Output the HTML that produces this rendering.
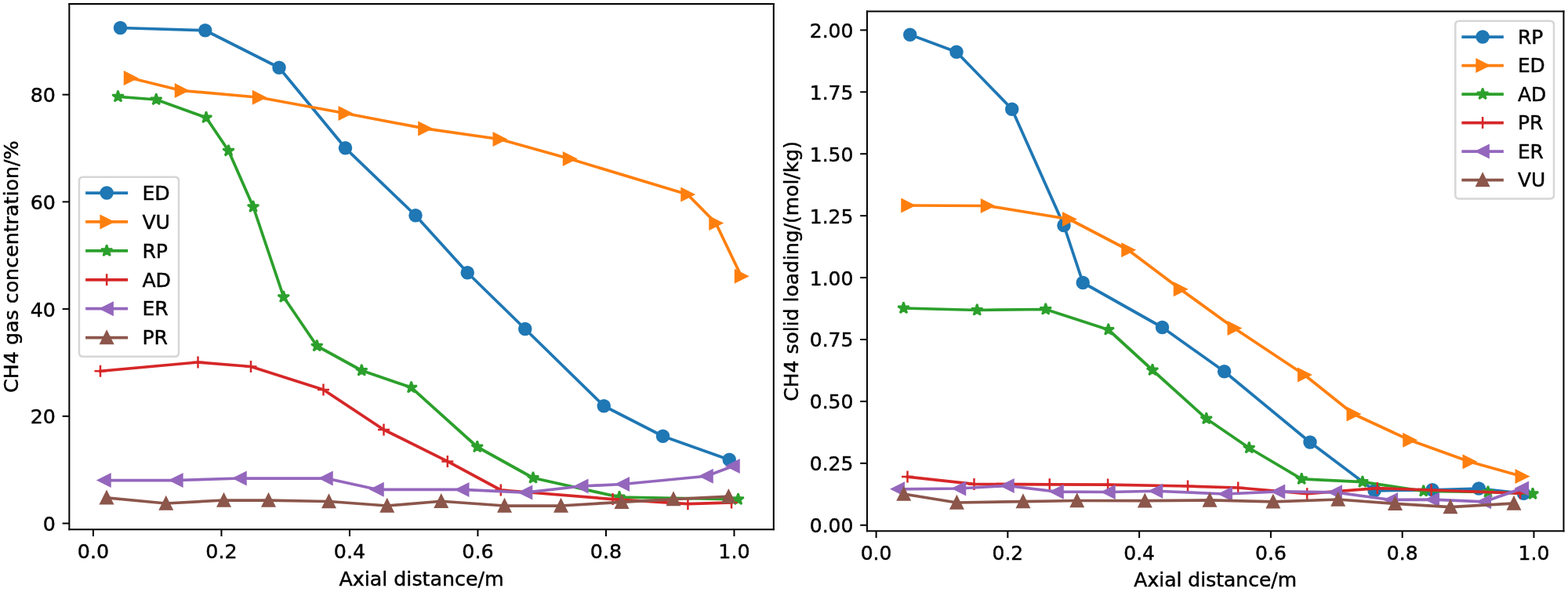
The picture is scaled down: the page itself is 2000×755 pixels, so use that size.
<!DOCTYPE html>
<html><head><meta charset="utf-8"><title>CH4 gas concentration and solid loading vs axial distance</title>
<style>html,body{margin:0;padding:0;background:#fff;overflow:hidden}svg{display:block}#fig text{stroke:#000;stroke-width:0.18px}</style>
</head><body>
<svg id="fig" width="2000" height="755" viewBox="0 0 800 302"> <defs> <style type="text/css">#fig *{stroke-linejoin: round; stroke-linecap: butt}</style> </defs> <g id="figure_1"> <g id="patch_1"> <path d="M 0 302 L 800 302 L 800 0 L 0 0 z " style="fill: #ffffff"/> </g> <g id="axes_1"> <g id="patch_2"> <path d="M 35.34 270.1 L 394.72 270.1 L 394.72 2.04 L 35.34 2.04 z " style="fill: #ffffff"/> </g> <g id="matplotlib.axis_1"> <g id="xtick_1"> <g id="line2d_1"> <g> <path d="M 0 0 L 0 3.5 " transform="translate(47.576 270.1)" style="stroke: #000000; stroke-width: 0.8"/> </g> </g> <g id="text_1"> <text style="font-size: 10.13px; font-family: 'DejaVu Sans', sans-serif; text-anchor: middle" x="47.576" y="284.797217" transform="rotate(-0 47.576 284.797217)">0.0</text> </g> </g> <g id="xtick_2"> <g id="line2d_2"> <g> <path d="M 0 0 L 0 3.5 " transform="translate(112.976 270.1)" style="stroke: #000000; stroke-width: 0.8"/> </g> </g> <g id="text_2"> <text style="font-size: 10.13px; font-family: 'DejaVu Sans', sans-serif; text-anchor: middle" x="112.976" y="284.797217" transform="rotate(-0 112.976 284.797217)">0.2</text> </g> </g> <g id="xtick_3"> <g id="line2d_3"> <g> <path d="M 0 0 L 0 3.5 " transform="translate(178.376 270.1)" style="stroke: #000000; stroke-width: 0.8"/> </g> </g> <g id="text_3"> <text style="font-size: 10.13px; font-family: 'DejaVu Sans', sans-serif; text-anchor: middle" x="178.376" y="284.797217" transform="rotate(-0 178.376 284.797217)">0.4</text> </g> </g> <g id="xtick_4"> <g id="line2d_4"> <g> <path d="M 0 0 L 0 3.5 " transform="translate(243.776 270.1)" style="stroke: #000000; stroke-width: 0.8"/> </g> </g> <g id="text_4"> <text style="font-size: 10.13px; font-family: 'DejaVu Sans', sans-serif; text-anchor: middle" x="243.776" y="284.797217" transform="rotate(-0 243.776 284.797217)">0.6</text> </g> </g> <g id="xtick_5"> <g id="line2d_5"> <g> <path d="M 0 0 L 0 3.5 " transform="translate(309.176 270.1)" style="stroke: #000000; stroke-width: 0.8"/> </g> </g> <g id="text_5"> <text style="font-size: 10.13px; font-family: 'DejaVu Sans', sans-serif; text-anchor: middle" x="309.176" y="284.797217" transform="rotate(-0 309.176 284.797217)">0.8</text> </g> </g> <g id="xtick_6"> <g id="line2d_6"> <g> <path d="M 0 0 L 0 3.5 " transform="translate(374.576 270.1)" style="stroke: #000000; stroke-width: 0.8"/> </g> </g> <g id="text_6"> <text style="font-size: 10.13px; font-family: 'DejaVu Sans', sans-serif; text-anchor: middle" x="374.576" y="284.797217" transform="rotate(-0 374.576 284.797217)">1.0</text> </g> </g> <g id="text_7"> <text style="font-size: 10.13px; font-family: 'DejaVu Sans', sans-serif; text-anchor: middle" x="215.03" y="298.601158" transform="rotate(-0 215.03 298.601158)">Axial distance/m</text> </g> </g> <g id="matplotlib.axis_2"> <g id="ytick_1"> <g id="line2d_7"> <g> <path d="M 0 0 L -3.5 0 " transform="translate(35.34 267)" style="stroke: #000000; stroke-width: 0.8"/> </g> </g> <g id="text_8"> <text style="font-size: 10.13px; font-family: 'DejaVu Sans', sans-serif; text-anchor: end" x="28.34" y="270.848609" transform="rotate(-0 28.34 270.848609)">0</text> </g> </g> <g id="ytick_2"> <g id="line2d_8"> <g> <path d="M 0 0 L -3.5 0 " transform="translate(35.34 212.32)" style="stroke: #000000; stroke-width: 0.8"/> </g> </g> <g id="text_9"> <text style="font-size: 10.13px; font-family: 'DejaVu Sans', sans-serif; text-anchor: end" x="28.34" y="216.168609" transform="rotate(-0 28.34 216.168609)">20</text> </g> </g> <g id="ytick_3"> <g id="line2d_9"> <g> <path d="M 0 0 L -3.5 0 " transform="translate(35.34 157.64)" style="stroke: #000000; stroke-width: 0.8"/> </g> </g> <g id="text_10"> <text style="font-size: 10.13px; font-family: 'DejaVu Sans', sans-serif; text-anchor: end" x="28.34" y="161.488609" transform="rotate(-0 28.34 161.488609)">40</text> </g> </g> <g id="ytick_4"> <g id="line2d_10"> <g> <path d="M 0 0 L -3.5 0 " transform="translate(35.34 102.96)" style="stroke: #000000; stroke-width: 0.8"/> </g> </g> <g id="text_11"> <text style="font-size: 10.13px; font-family: 'DejaVu Sans', sans-serif; text-anchor: end" x="28.34" y="106.808609" transform="rotate(-0 28.34 106.808609)">60</text> </g> </g> <g id="ytick_5"> <g id="line2d_11"> <g> <path d="M 0 0 L -3.5 0 " transform="translate(35.34 48.28)" style="stroke: #000000; stroke-width: 0.8"/> </g> </g> <g id="text_12"> <text style="font-size: 10.13px; font-family: 'DejaVu Sans', sans-serif; text-anchor: end" x="28.34" y="52.128609" transform="rotate(-0 28.34 52.128609)">80</text> </g> </g> <g id="text_13"> <text style="font-size: 10.13px; font-family: 'DejaVu Sans', sans-serif; text-anchor: middle" x="9.342852" y="136.07" transform="rotate(-90 9.342852 136.07)">CH4 gas concentration/%</text> </g> </g> <g id="line2d_12"> <path d="M 61.4 14.2 L 104.7 15.5 L 142.4 34.5 L 176.2 75.52 L 212 109.9 L 238.5 139.1 L 267.9 167.8 L 308.1 207.1 L 338.2 222.5 L 372.08 234.52 " clip-path="url(#pc1bcc876b8)" style="fill: none; stroke: #1f77b4; stroke-width: 1.5; stroke-linecap: square"/> <g clip-path="url(#pc1bcc876b8)"> <path d="M 0 3 C 0.795609 3 1.55874 2.683901 2.12132 2.12132 C 2.683901 1.55874 3 0.795609 3 0 C 3 -0.795609 2.683901 -1.55874 2.12132 -2.12132 C 1.55874 -2.683901 0.795609 -3 0 -3 C -0.795609 -3 -1.55874 -2.683901 -2.12132 -2.12132 C -2.683901 -1.55874 -3 -0.795609 -3 0 C -3 0.795609 -2.683901 1.55874 -2.12132 2.12132 C -1.55874 2.683901 -0.795609 3 0 3 z " transform="translate(61.4 14.2)" style="fill: #1f77b4; stroke: #1f77b4"/> <path d="M 0 3 C 0.795609 3 1.55874 2.683901 2.12132 2.12132 C 2.683901 1.55874 3 0.795609 3 0 C 3 -0.795609 2.683901 -1.55874 2.12132 -2.12132 C 1.55874 -2.683901 0.795609 -3 0 -3 C -0.795609 -3 -1.55874 -2.683901 -2.12132 -2.12132 C -2.683901 -1.55874 -3 -0.795609 -3 0 C -3 0.795609 -2.683901 1.55874 -2.12132 2.12132 C -1.55874 2.683901 -0.795609 3 0 3 z " transform="translate(104.7 15.5)" style="fill: #1f77b4; stroke: #1f77b4"/> <path d="M 0 3 C 0.795609 3 1.55874 2.683901 2.12132 2.12132 C 2.683901 1.55874 3 0.795609 3 0 C 3 -0.795609 2.683901 -1.55874 2.12132 -2.12132 C 1.55874 -2.683901 0.795609 -3 0 -3 C -0.795609 -3 -1.55874 -2.683901 -2.12132 -2.12132 C -2.683901 -1.55874 -3 -0.795609 -3 0 C -3 0.795609 -2.683901 1.55874 -2.12132 2.12132 C -1.55874 2.683901 -0.795609 3 0 3 z " transform="translate(142.4 34.5)" style="fill: #1f77b4; stroke: #1f77b4"/> <path d="M 0 3 C 0.795609 3 1.55874 2.683901 2.12132 2.12132 C 2.683901 1.55874 3 0.795609 3 0 C 3 -0.795609 2.683901 -1.55874 2.12132 -2.12132 C 1.55874 -2.683901 0.795609 -3 0 -3 C -0.795609 -3 -1.55874 -2.683901 -2.12132 -2.12132 C -2.683901 -1.55874 -3 -0.795609 -3 0 C -3 0.795609 -2.683901 1.55874 -2.12132 2.12132 C -1.55874 2.683901 -0.795609 3 0 3 z " transform="translate(176.2 75.52)" style="fill: #1f77b4; stroke: #1f77b4"/> <path d="M 0 3 C 0.795609 3 1.55874 2.683901 2.12132 2.12132 C 2.683901 1.55874 3 0.795609 3 0 C 3 -0.795609 2.683901 -1.55874 2.12132 -2.12132 C 1.55874 -2.683901 0.795609 -3 0 -3 C -0.795609 -3 -1.55874 -2.683901 -2.12132 -2.12132 C -2.683901 -1.55874 -3 -0.795609 -3 0 C -3 0.795609 -2.683901 1.55874 -2.12132 2.12132 C -1.55874 2.683901 -0.795609 3 0 3 z " transform="translate(212 109.9)" style="fill: #1f77b4; stroke: #1f77b4"/> <path d="M 0 3 C 0.795609 3 1.55874 2.683901 2.12132 2.12132 C 2.683901 1.55874 3 0.795609 3 0 C 3 -0.795609 2.683901 -1.55874 2.12132 -2.12132 C 1.55874 -2.683901 0.795609 -3 0 -3 C -0.795609 -3 -1.55874 -2.683901 -2.12132 -2.12132 C -2.683901 -1.55874 -3 -0.795609 -3 0 C -3 0.795609 -2.683901 1.55874 -2.12132 2.12132 C -1.55874 2.683901 -0.795609 3 0 3 z " transform="translate(238.5 139.1)" style="fill: #1f77b4; stroke: #1f77b4"/> <path d="M 0 3 C 0.795609 3 1.55874 2.683901 2.12132 2.12132 C 2.683901 1.55874 3 0.795609 3 0 C 3 -0.795609 2.683901 -1.55874 2.12132 -2.12132 C 1.55874 -2.683901 0.795609 -3 0 -3 C -0.795609 -3 -1.55874 -2.683901 -2.12132 -2.12132 C -2.683901 -1.55874 -3 -0.795609 -3 0 C -3 0.795609 -2.683901 1.55874 -2.12132 2.12132 C -1.55874 2.683901 -0.795609 3 0 3 z " transform="translate(267.9 167.8)" style="fill: #1f77b4; stroke: #1f77b4"/> <path d="M 0 3 C 0.795609 3 1.55874 2.683901 2.12132 2.12132 C 2.683901 1.55874 3 0.795609 3 0 C 3 -0.795609 2.683901 -1.55874 2.12132 -2.12132 C 1.55874 -2.683901 0.795609 -3 0 -3 C -0.795609 -3 -1.55874 -2.683901 -2.12132 -2.12132 C -2.683901 -1.55874 -3 -0.795609 -3 0 C -3 0.795609 -2.683901 1.55874 -2.12132 2.12132 C -1.55874 2.683901 -0.795609 3 0 3 z " transform="translate(308.1 207.1)" style="fill: #1f77b4; stroke: #1f77b4"/> <path d="M 0 3 C 0.795609 3 1.55874 2.683901 2.12132 2.12132 C 2.683901 1.55874 3 0.795609 3 0 C 3 -0.795609 2.683901 -1.55874 2.12132 -2.12132 C 1.55874 -2.683901 0.795609 -3 0 -3 C -0.795609 -3 -1.55874 -2.683901 -2.12132 -2.12132 C -2.683901 -1.55874 -3 -0.795609 -3 0 C -3 0.795609 -2.683901 1.55874 -2.12132 2.12132 C -1.55874 2.683901 -0.795609 3 0 3 z " transform="translate(338.2 222.5)" style="fill: #1f77b4; stroke: #1f77b4"/> <path d="M 0 3 C 0.795609 3 1.55874 2.683901 2.12132 2.12132 C 2.683901 1.55874 3 0.795609 3 0 C 3 -0.795609 2.683901 -1.55874 2.12132 -2.12132 C 1.55874 -2.683901 0.795609 -3 0 -3 C -0.795609 -3 -1.55874 -2.683901 -2.12132 -2.12132 C -2.683901 -1.55874 -3 -0.795609 -3 0 C -3 0.795609 -2.683901 1.55874 -2.12132 2.12132 C -1.55874 2.683901 -0.795609 3 0 3 z " transform="translate(372.08 234.52)" style="fill: #1f77b4; stroke: #1f77b4"/> </g> </g> <g id="line2d_13"> <path d="M 66.6 39.8 L 92.6 46.2 L 132.2 49.7 L 176.1 57.8 L 216.76 65.56 L 254.9 71 L 290.6 81 L 350.8 99.2 L 365.2 113.8 L 378.2 140.9 " clip-path="url(#pc1bcc876b8)" style="fill: none; stroke: #ff7f0e; stroke-width: 1.5; stroke-linecap: square"/> <g clip-path="url(#pc1bcc876b8)"> <path d="M 3 0 L -3 -3 L -3 3 z " transform="translate(66.6 39.8)" style="fill: #ff7f0e; stroke: #ff7f0e; stroke-linejoin: miter"/> <path d="M 3 0 L -3 -3 L -3 3 z " transform="translate(92.6 46.2)" style="fill: #ff7f0e; stroke: #ff7f0e; stroke-linejoin: miter"/> <path d="M 3 0 L -3 -3 L -3 3 z " transform="translate(132.2 49.7)" style="fill: #ff7f0e; stroke: #ff7f0e; stroke-linejoin: miter"/> <path d="M 3 0 L -3 -3 L -3 3 z " transform="translate(176.1 57.8)" style="fill: #ff7f0e; stroke: #ff7f0e; stroke-linejoin: miter"/> <path d="M 3 0 L -3 -3 L -3 3 z " transform="translate(216.76 65.56)" style="fill: #ff7f0e; stroke: #ff7f0e; stroke-linejoin: miter"/> <path d="M 3 0 L -3 -3 L -3 3 z " transform="translate(254.9 71)" style="fill: #ff7f0e; stroke: #ff7f0e; stroke-linejoin: miter"/> <path d="M 3 0 L -3 -3 L -3 3 z " transform="translate(290.6 81)" style="fill: #ff7f0e; stroke: #ff7f0e; stroke-linejoin: miter"/> <path d="M 3 0 L -3 -3 L -3 3 z " transform="translate(350.8 99.2)" style="fill: #ff7f0e; stroke: #ff7f0e; stroke-linejoin: miter"/> <path d="M 3 0 L -3 -3 L -3 3 z " transform="translate(365.2 113.8)" style="fill: #ff7f0e; stroke: #ff7f0e; stroke-linejoin: miter"/> <path d="M 3 0 L -3 -3 L -3 3 z " transform="translate(378.2 140.9)" style="fill: #ff7f0e; stroke: #ff7f0e; stroke-linejoin: miter"/> </g> </g> <g id="line2d_14"> <path d="M 60.2 49.3 L 79.7 50.8 L 105.2 60 L 116.6 76.92 L 129.2 105.5 L 144.7 151.5 L 161.7 176.5 L 184.5 189 L 209.84 197.7 L 243.5 228 L 272 243.8 L 316 253.6 L 376.6 254.72 " clip-path="url(#pc1bcc876b8)" style="fill: none; stroke: #2ca02c; stroke-width: 1.5; stroke-linecap: square"/> <g clip-path="url(#pc1bcc876b8)"> <path d="M 0 -3 L -0.673542 -0.927051 L -2.85317 -0.927051 L -1.089814 0.354102 L -1.763356 2.427051 L -0 1.145898 L 1.763356 2.427051 L 1.089814 0.354102 L 2.85317 -0.927051 L 0.673542 -0.927051 z " transform="translate(60.2 49.3)" style="fill: #2ca02c; stroke: #2ca02c; stroke-linejoin: bevel"/> <path d="M 0 -3 L -0.673542 -0.927051 L -2.85317 -0.927051 L -1.089814 0.354102 L -1.763356 2.427051 L -0 1.145898 L 1.763356 2.427051 L 1.089814 0.354102 L 2.85317 -0.927051 L 0.673542 -0.927051 z " transform="translate(79.7 50.8)" style="fill: #2ca02c; stroke: #2ca02c; stroke-linejoin: bevel"/> <path d="M 0 -3 L -0.673542 -0.927051 L -2.85317 -0.927051 L -1.089814 0.354102 L -1.763356 2.427051 L -0 1.145898 L 1.763356 2.427051 L 1.089814 0.354102 L 2.85317 -0.927051 L 0.673542 -0.927051 z " transform="translate(105.2 60)" style="fill: #2ca02c; stroke: #2ca02c; stroke-linejoin: bevel"/> <path d="M 0 -3 L -0.673542 -0.927051 L -2.85317 -0.927051 L -1.089814 0.354102 L -1.763356 2.427051 L -0 1.145898 L 1.763356 2.427051 L 1.089814 0.354102 L 2.85317 -0.927051 L 0.673542 -0.927051 z " transform="translate(116.6 76.92)" style="fill: #2ca02c; stroke: #2ca02c; stroke-linejoin: bevel"/> <path d="M 0 -3 L -0.673542 -0.927051 L -2.85317 -0.927051 L -1.089814 0.354102 L -1.763356 2.427051 L -0 1.145898 L 1.763356 2.427051 L 1.089814 0.354102 L 2.85317 -0.927051 L 0.673542 -0.927051 z " transform="translate(129.2 105.5)" style="fill: #2ca02c; stroke: #2ca02c; stroke-linejoin: bevel"/> <path d="M 0 -3 L -0.673542 -0.927051 L -2.85317 -0.927051 L -1.089814 0.354102 L -1.763356 2.427051 L -0 1.145898 L 1.763356 2.427051 L 1.089814 0.354102 L 2.85317 -0.927051 L 0.673542 -0.927051 z " transform="translate(144.7 151.5)" style="fill: #2ca02c; stroke: #2ca02c; stroke-linejoin: bevel"/> <path d="M 0 -3 L -0.673542 -0.927051 L -2.85317 -0.927051 L -1.089814 0.354102 L -1.763356 2.427051 L -0 1.145898 L 1.763356 2.427051 L 1.089814 0.354102 L 2.85317 -0.927051 L 0.673542 -0.927051 z " transform="translate(161.7 176.5)" style="fill: #2ca02c; stroke: #2ca02c; stroke-linejoin: bevel"/> <path d="M 0 -3 L -0.673542 -0.927051 L -2.85317 -0.927051 L -1.089814 0.354102 L -1.763356 2.427051 L -0 1.145898 L 1.763356 2.427051 L 1.089814 0.354102 L 2.85317 -0.927051 L 0.673542 -0.927051 z " transform="translate(184.5 189)" style="fill: #2ca02c; stroke: #2ca02c; stroke-linejoin: bevel"/> <path d="M 0 -3 L -0.673542 -0.927051 L -2.85317 -0.927051 L -1.089814 0.354102 L -1.763356 2.427051 L -0 1.145898 L 1.763356 2.427051 L 1.089814 0.354102 L 2.85317 -0.927051 L 0.673542 -0.927051 z " transform="translate(209.84 197.7)" style="fill: #2ca02c; stroke: #2ca02c; stroke-linejoin: bevel"/> <path d="M 0 -3 L -0.673542 -0.927051 L -2.85317 -0.927051 L -1.089814 0.354102 L -1.763356 2.427051 L -0 1.145898 L 1.763356 2.427051 L 1.089814 0.354102 L 2.85317 -0.927051 L 0.673542 -0.927051 z " transform="translate(243.5 228)" style="fill: #2ca02c; stroke: #2ca02c; stroke-linejoin: bevel"/> <path d="M 0 -3 L -0.673542 -0.927051 L -2.85317 -0.927051 L -1.089814 0.354102 L -1.763356 2.427051 L -0 1.145898 L 1.763356 2.427051 L 1.089814 0.354102 L 2.85317 -0.927051 L 0.673542 -0.927051 z " transform="translate(272 243.8)" style="fill: #2ca02c; stroke: #2ca02c; stroke-linejoin: bevel"/> <path d="M 0 -3 L -0.673542 -0.927051 L -2.85317 -0.927051 L -1.089814 0.354102 L -1.763356 2.427051 L -0 1.145898 L 1.763356 2.427051 L 1.089814 0.354102 L 2.85317 -0.927051 L 0.673542 -0.927051 z " transform="translate(316 253.6)" style="fill: #2ca02c; stroke: #2ca02c; stroke-linejoin: bevel"/> <path d="M 0 -3 L -0.673542 -0.927051 L -2.85317 -0.927051 L -1.089814 0.354102 L -1.763356 2.427051 L -0 1.145898 L 1.763356 2.427051 L 1.089814 0.354102 L 2.85317 -0.927051 L 0.673542 -0.927051 z " transform="translate(376.6 254.72)" style="fill: #2ca02c; stroke: #2ca02c; stroke-linejoin: bevel"/> </g> </g> <g id="line2d_15"> <path d="M 51.2 189.3 L 101 184.8 L 128 187 L 165 198.8 L 195.8 219.2 L 228.32 235.36 L 255.52 250 L 312.64 254.64 L 350.96 257.08 L 373.2 256.4 " clip-path="url(#pc1bcc876b8)" style="fill: none; stroke: #d62728; stroke-width: 1.5; stroke-linecap: square"/> <g clip-path="url(#pc1bcc876b8)"> <path d="M -3 0 L 3 0 M 0 3 L 0 -3 " transform="translate(51.2 189.3)" style="fill: #d62728; stroke: #d62728"/> <path d="M -3 0 L 3 0 M 0 3 L 0 -3 " transform="translate(101 184.8)" style="fill: #d62728; stroke: #d62728"/> <path d="M -3 0 L 3 0 M 0 3 L 0 -3 " transform="translate(128 187)" style="fill: #d62728; stroke: #d62728"/> <path d="M -3 0 L 3 0 M 0 3 L 0 -3 " transform="translate(165 198.8)" style="fill: #d62728; stroke: #d62728"/> <path d="M -3 0 L 3 0 M 0 3 L 0 -3 " transform="translate(195.8 219.2)" style="fill: #d62728; stroke: #d62728"/> <path d="M -3 0 L 3 0 M 0 3 L 0 -3 " transform="translate(228.32 235.36)" style="fill: #d62728; stroke: #d62728"/> <path d="M -3 0 L 3 0 M 0 3 L 0 -3 " transform="translate(255.52 250)" style="fill: #d62728; stroke: #d62728"/> <path d="M -3 0 L 3 0 M 0 3 L 0 -3 " transform="translate(312.64 254.64)" style="fill: #d62728; stroke: #d62728"/> <path d="M -3 0 L 3 0 M 0 3 L 0 -3 " transform="translate(350.96 257.08)" style="fill: #d62728; stroke: #d62728"/> <path d="M -3 0 L 3 0 M 0 3 L 0 -3 " transform="translate(373.2 256.4)" style="fill: #d62728; stroke: #d62728"/> </g> </g> <g id="line2d_16"> <path d="M 53.2 245 L 89.96 245 L 122.4 244 L 166.4 244 L 192.4 249.7 L 235.9 249.76 L 268.2 251.24 L 296.7 248 L 317.7 247 L 360.4 242.9 L 374 237.8 " clip-path="url(#pc1bcc876b8)" style="fill: none; stroke: #9467bd; stroke-width: 1.5; stroke-linecap: square"/> <g clip-path="url(#pc1bcc876b8)"> <path d="M -3 -0 L 3 3 L 3 -3 z " transform="translate(53.2 245)" style="fill: #9467bd; stroke: #9467bd; stroke-linejoin: miter"/> <path d="M -3 -0 L 3 3 L 3 -3 z " transform="translate(89.96 245)" style="fill: #9467bd; stroke: #9467bd; stroke-linejoin: miter"/> <path d="M -3 -0 L 3 3 L 3 -3 z " transform="translate(122.4 244)" style="fill: #9467bd; stroke: #9467bd; stroke-linejoin: miter"/> <path d="M -3 -0 L 3 3 L 3 -3 z " transform="translate(166.4 244)" style="fill: #9467bd; stroke: #9467bd; stroke-linejoin: miter"/> <path d="M -3 -0 L 3 3 L 3 -3 z " transform="translate(192.4 249.7)" style="fill: #9467bd; stroke: #9467bd; stroke-linejoin: miter"/> <path d="M -3 -0 L 3 3 L 3 -3 z " transform="translate(235.9 249.76)" style="fill: #9467bd; stroke: #9467bd; stroke-linejoin: miter"/> <path d="M -3 -0 L 3 3 L 3 -3 z " transform="translate(268.2 251.24)" style="fill: #9467bd; stroke: #9467bd; stroke-linejoin: miter"/> <path d="M -3 -0 L 3 3 L 3 -3 z " transform="translate(296.7 248)" style="fill: #9467bd; stroke: #9467bd; stroke-linejoin: miter"/> <path d="M -3 -0 L 3 3 L 3 -3 z " transform="translate(317.7 247)" style="fill: #9467bd; stroke: #9467bd; stroke-linejoin: miter"/> <path d="M -3 -0 L 3 3 L 3 -3 z " transform="translate(360.4 242.9)" style="fill: #9467bd; stroke: #9467bd; stroke-linejoin: miter"/> <path d="M -3 -0 L 3 3 L 3 -3 z " transform="translate(374 237.8)" style="fill: #9467bd; stroke: #9467bd; stroke-linejoin: miter"/> </g> </g> <g id="line2d_17"> <path d="M 54.4 253.9 L 84.7 256.8 L 114.2 255.2 L 137 255.2 L 167.8 255.8 L 197.5 258 L 225.1 255.7 L 257.4 258 L 286.2 258 L 317.2 256.12 L 343.6 254.64 L 371.72 253.32 " clip-path="url(#pc1bcc876b8)" style="fill: none; stroke: #8c564b; stroke-width: 1.5; stroke-linecap: square"/> <g clip-path="url(#pc1bcc876b8)"> <path d="M 0 -3 L -3 3 L 3 3 z " transform="translate(54.4 253.9)" style="fill: #8c564b; stroke: #8c564b; stroke-linejoin: miter"/> <path d="M 0 -3 L -3 3 L 3 3 z " transform="translate(84.7 256.8)" style="fill: #8c564b; stroke: #8c564b; stroke-linejoin: miter"/> <path d="M 0 -3 L -3 3 L 3 3 z " transform="translate(114.2 255.2)" style="fill: #8c564b; stroke: #8c564b; stroke-linejoin: miter"/> <path d="M 0 -3 L -3 3 L 3 3 z " transform="translate(137 255.2)" style="fill: #8c564b; stroke: #8c564b; stroke-linejoin: miter"/> <path d="M 0 -3 L -3 3 L 3 3 z " transform="translate(167.8 255.8)" style="fill: #8c564b; stroke: #8c564b; stroke-linejoin: miter"/> <path d="M 0 -3 L -3 3 L 3 3 z " transform="translate(197.5 258)" style="fill: #8c564b; stroke: #8c564b; stroke-linejoin: miter"/> <path d="M 0 -3 L -3 3 L 3 3 z " transform="translate(225.1 255.7)" style="fill: #8c564b; stroke: #8c564b; stroke-linejoin: miter"/> <path d="M 0 -3 L -3 3 L 3 3 z " transform="translate(257.4 258)" style="fill: #8c564b; stroke: #8c564b; stroke-linejoin: miter"/> <path d="M 0 -3 L -3 3 L 3 3 z " transform="translate(286.2 258)" style="fill: #8c564b; stroke: #8c564b; stroke-linejoin: miter"/> <path d="M 0 -3 L -3 3 L 3 3 z " transform="translate(317.2 256.12)" style="fill: #8c564b; stroke: #8c564b; stroke-linejoin: miter"/> <path d="M 0 -3 L -3 3 L 3 3 z " transform="translate(343.6 254.64)" style="fill: #8c564b; stroke: #8c564b; stroke-linejoin: miter"/> <path d="M 0 -3 L -3 3 L 3 3 z " transform="translate(371.72 253.32)" style="fill: #8c564b; stroke: #8c564b; stroke-linejoin: miter"/> </g> </g> <g id="patch_3"> <path d="M 35.34 270.1 L 35.34 2.04 " style="fill: none; stroke: #000000; stroke-width: 0.8; stroke-linejoin: miter; stroke-linecap: square"/> </g> <g id="patch_4"> <path d="M 394.72 270.1 L 394.72 2.04 " style="fill: none; stroke: #000000; stroke-width: 0.8; stroke-linejoin: miter; stroke-linecap: square"/> </g> <g id="patch_5"> <path d="M 35.34 270.1 L 394.72 270.1 " style="fill: none; stroke: #000000; stroke-width: 0.8; stroke-linejoin: miter; stroke-linecap: square"/> </g> <g id="patch_6"> <path d="M 35.34 2.04 L 394.72 2.04 " style="fill: none; stroke: #000000; stroke-width: 0.8; stroke-linejoin: miter; stroke-linecap: square"/> </g> <g id="legend_1"> <g id="patch_7"> <path d="M 42.382 181.877581 L 89.201869 181.877581 Q 91.213869 181.877581 91.213869 179.865581 L 91.213869 92.274419 Q 91.213869 90.262419 89.201869 90.262419 L 42.382 90.262419 Q 40.37 90.262419 40.37 92.274419 L 40.37 179.865581 Q 40.37 181.877581 42.382 181.877581 z " style="fill: #ffffff; opacity: 0.8; stroke: #cccccc; stroke-linejoin: miter"/> </g> <g id="line2d_18"> <path d="M 44.394 98.409447 L 54.454 98.409447 L 64.514 98.409447 " style="fill: none; stroke: #1f77b4; stroke-width: 1.5; stroke-linecap: square"/> <g> <path d="M 0 3 C 0.795609 3 1.55874 2.683901 2.12132 2.12132 C 2.683901 1.55874 3 0.795609 3 0 C 3 -0.795609 2.683901 -1.55874 2.12132 -2.12132 C 1.55874 -2.683901 0.795609 -3 0 -3 C -0.795609 -3 -1.55874 -2.683901 -2.12132 -2.12132 C -2.683901 -1.55874 -3 -0.795609 -3 0 C -3 0.795609 -2.683901 1.55874 -2.12132 2.12132 C -1.55874 2.683901 -0.795609 3 0 3 z " transform="translate(54.454 98.409447)" style="fill: #1f77b4; stroke: #1f77b4"/> </g> </g> <g id="text_14"> <text style="font-size: 10.06px; font-family: 'DejaVu Sans', sans-serif; text-anchor: start" x="72.562" y="101.930447" transform="rotate(-0 72.562 101.930447)">ED</text> </g> <g id="line2d_19"> <path d="M 44.394 113.175641 L 54.454 113.175641 L 64.514 113.175641 " style="fill: none; stroke: #ff7f0e; stroke-width: 1.5; stroke-linecap: square"/> <g> <path d="M 3 0 L -3 -3 L -3 3 z " transform="translate(54.454 113.175641)" style="fill: #ff7f0e; stroke: #ff7f0e; stroke-linejoin: miter"/> </g> </g> <g id="text_15"> <text style="font-size: 10.06px; font-family: 'DejaVu Sans', sans-serif; text-anchor: start" x="72.562" y="116.696641" transform="rotate(-0 72.562 116.696641)">VU</text> </g> <g id="line2d_20"> <path d="M 44.394 127.941834 L 54.454 127.941834 L 64.514 127.941834 " style="fill: none; stroke: #2ca02c; stroke-width: 1.5; stroke-linecap: square"/> <g> <path d="M 0 -3 L -0.673542 -0.927051 L -2.85317 -0.927051 L -1.089814 0.354102 L -1.763356 2.427051 L -0 1.145898 L 1.763356 2.427051 L 1.089814 0.354102 L 2.85317 -0.927051 L 0.673542 -0.927051 z " transform="translate(54.454 127.941834)" style="fill: #2ca02c; stroke: #2ca02c; stroke-linejoin: bevel"/> </g> </g> <g id="text_16"> <text style="font-size: 10.06px; font-family: 'DejaVu Sans', sans-serif; text-anchor: start" x="72.562" y="131.462834" transform="rotate(-0 72.562 131.462834)">RP</text> </g> <g id="line2d_21"> <path d="M 44.394 142.708028 L 54.454 142.708028 L 64.514 142.708028 " style="fill: none; stroke: #d62728; stroke-width: 1.5; stroke-linecap: square"/> <g> <path d="M -3 0 L 3 0 M 0 3 L 0 -3 " transform="translate(54.454 142.708028)" style="fill: #d62728; stroke: #d62728"/> </g> </g> <g id="text_17"> <text style="font-size: 10.06px; font-family: 'DejaVu Sans', sans-serif; text-anchor: start" x="72.562" y="146.229028" transform="rotate(-0 72.562 146.229028)">AD</text> </g> <g id="line2d_22"> <path d="M 44.394 157.474222 L 54.454 157.474222 L 64.514 157.474222 " style="fill: none; stroke: #9467bd; stroke-width: 1.5; stroke-linecap: square"/> <g> <path d="M -3 -0 L 3 3 L 3 -3 z " transform="translate(54.454 157.474222)" style="fill: #9467bd; stroke: #9467bd; stroke-linejoin: miter"/> </g> </g> <g id="text_18"> <text style="font-size: 10.06px; font-family: 'DejaVu Sans', sans-serif; text-anchor: start" x="72.562" y="160.995222" transform="rotate(-0 72.562 160.995222)">ER</text> </g> <g id="line2d_23"> <path d="M 44.394 172.240416 L 54.454 172.240416 L 64.514 172.240416 " style="fill: none; stroke: #8c564b; stroke-width: 1.5; stroke-linecap: square"/> <g> <path d="M 0 -3 L -3 3 L 3 3 z " transform="translate(54.454 172.240416)" style="fill: #8c564b; stroke: #8c564b; stroke-linejoin: miter"/> </g> </g> <g id="text_19"> <text style="font-size: 10.06px; font-family: 'DejaVu Sans', sans-serif; text-anchor: start" x="72.562" y="175.761416" transform="rotate(-0 72.562 175.761416)">PR</text> </g> </g> </g> <g id="axes_2"> <g id="patch_8"> <path d="M 442.38 270.92 L 797.78 270.92 L 797.78 5.768 L 442.38 5.768 z " style="fill: #ffffff"/> </g> <g id="matplotlib.axis_3"> <g id="xtick_7"> <g id="line2d_24"> <g> <path d="M 0 0 L 0 3.5 " transform="translate(447.04 270.92)" style="stroke: #000000; stroke-width: 0.8"/> </g> </g> <g id="text_20"> <text style="font-size: 10px; font-family: 'DejaVu Sans', sans-serif; text-anchor: middle" x="447.04" y="285.518438" transform="rotate(-0 447.04 285.518438)">0.0</text> </g> </g> <g id="xtick_8"> <g id="line2d_25"> <g> <path d="M 0 0 L 0 3.5 " transform="translate(514.1488 270.92)" style="stroke: #000000; stroke-width: 0.8"/> </g> </g> <g id="text_21"> <text style="font-size: 10px; font-family: 'DejaVu Sans', sans-serif; text-anchor: middle" x="514.1488" y="285.518438" transform="rotate(-0 514.1488 285.518438)">0.2</text> </g> </g> <g id="xtick_9"> <g id="line2d_26"> <g> <path d="M 0 0 L 0 3.5 " transform="translate(581.2576 270.92)" style="stroke: #000000; stroke-width: 0.8"/> </g> </g> <g id="text_22"> <text style="font-size: 10px; font-family: 'DejaVu Sans', sans-serif; text-anchor: middle" x="581.2576" y="285.518438" transform="rotate(-0 581.2576 285.518438)">0.4</text> </g> </g> <g id="xtick_10"> <g id="line2d_27"> <g> <path d="M 0 0 L 0 3.5 " transform="translate(648.3664 270.92)" style="stroke: #000000; stroke-width: 0.8"/> </g> </g> <g id="text_23"> <text style="font-size: 10px; font-family: 'DejaVu Sans', sans-serif; text-anchor: middle" x="648.3664" y="285.518438" transform="rotate(-0 648.3664 285.518438)">0.6</text> </g> </g> <g id="xtick_11"> <g id="line2d_28"> <g> <path d="M 0 0 L 0 3.5 " transform="translate(715.4752 270.92)" style="stroke: #000000; stroke-width: 0.8"/> </g> </g> <g id="text_24"> <text style="font-size: 10px; font-family: 'DejaVu Sans', sans-serif; text-anchor: middle" x="715.4752" y="285.518438" transform="rotate(-0 715.4752 285.518438)">0.8</text> </g> </g> <g id="xtick_12"> <g id="line2d_29"> <g> <path d="M 0 0 L 0 3.5 " transform="translate(782.584 270.92)" style="stroke: #000000; stroke-width: 0.8"/> </g> </g> <g id="text_25"> <text style="font-size: 10px; font-family: 'DejaVu Sans', sans-serif; text-anchor: middle" x="782.584" y="285.518438" transform="rotate(-0 782.584 285.518438)">1.0</text> </g> </g> <g id="text_26"> <text style="font-size: 10px; font-family: 'DejaVu Sans', sans-serif; text-anchor: middle" x="620.08" y="299.196562" transform="rotate(-0 620.08 299.196562)">Axial distance/m</text> </g> </g> <g id="matplotlib.axis_4"> <g id="ytick_6"> <g id="line2d_30"> <g> <path d="M 0 0 L -3.5 0 " transform="translate(442.38 267.896)" style="stroke: #000000; stroke-width: 0.8"/> </g> </g> <g id="text_27"> <text style="font-size: 10px; font-family: 'DejaVu Sans', sans-serif; text-anchor: end" x="435.38" y="271.695219" transform="rotate(-0 435.38 271.695219)">0.00</text> </g> </g> <g id="ytick_7"> <g id="line2d_31"> <g> <path d="M 0 0 L -3.5 0 " transform="translate(442.38 236.329)" style="stroke: #000000; stroke-width: 0.8"/> </g> </g> <g id="text_28"> <text style="font-size: 10px; font-family: 'DejaVu Sans', sans-serif; text-anchor: end" x="435.38" y="240.128219" transform="rotate(-0 435.38 240.128219)">0.25</text> </g> </g> <g id="ytick_8"> <g id="line2d_32"> <g> <path d="M 0 0 L -3.5 0 " transform="translate(442.38 204.762)" style="stroke: #000000; stroke-width: 0.8"/> </g> </g> <g id="text_29"> <text style="font-size: 10px; font-family: 'DejaVu Sans', sans-serif; text-anchor: end" x="435.38" y="208.561219" transform="rotate(-0 435.38 208.561219)">0.50</text> </g> </g> <g id="ytick_9"> <g id="line2d_33"> <g> <path d="M 0 0 L -3.5 0 " transform="translate(442.38 173.195)" style="stroke: #000000; stroke-width: 0.8"/> </g> </g> <g id="text_30"> <text style="font-size: 10px; font-family: 'DejaVu Sans', sans-serif; text-anchor: end" x="435.38" y="176.994219" transform="rotate(-0 435.38 176.994219)">0.75</text> </g> </g> <g id="ytick_10"> <g id="line2d_34"> <g> <path d="M 0 0 L -3.5 0 " transform="translate(442.38 141.628)" style="stroke: #000000; stroke-width: 0.8"/> </g> </g> <g id="text_31"> <text style="font-size: 10px; font-family: 'DejaVu Sans', sans-serif; text-anchor: end" x="435.38" y="145.427219" transform="rotate(-0 435.38 145.427219)">1.00</text> </g> </g> <g id="ytick_11"> <g id="line2d_35"> <g> <path d="M 0 0 L -3.5 0 " transform="translate(442.38 110.061)" style="stroke: #000000; stroke-width: 0.8"/> </g> </g> <g id="text_32"> <text style="font-size: 10px; font-family: 'DejaVu Sans', sans-serif; text-anchor: end" x="435.38" y="113.860219" transform="rotate(-0 435.38 113.860219)">1.25</text> </g> </g> <g id="ytick_12"> <g id="line2d_36"> <g> <path d="M 0 0 L -3.5 0 " transform="translate(442.38 78.494)" style="stroke: #000000; stroke-width: 0.8"/> </g> </g> <g id="text_33"> <text style="font-size: 10px; font-family: 'DejaVu Sans', sans-serif; text-anchor: end" x="435.38" y="82.293219" transform="rotate(-0 435.38 82.293219)">1.50</text> </g> </g> <g id="ytick_13"> <g id="line2d_37"> <g> <path d="M 0 0 L -3.5 0 " transform="translate(442.38 46.927)" style="stroke: #000000; stroke-width: 0.8"/> </g> </g> <g id="text_34"> <text style="font-size: 10px; font-family: 'DejaVu Sans', sans-serif; text-anchor: end" x="435.38" y="50.726219" transform="rotate(-0 435.38 50.726219)">1.75</text> </g> </g> <g id="ytick_14"> <g id="line2d_38"> <g> <path d="M 0 0 L -3.5 0 " transform="translate(442.38 15.36)" style="stroke: #000000; stroke-width: 0.8"/> </g> </g> <g id="text_35"> <text style="font-size: 10px; font-family: 'DejaVu Sans', sans-serif; text-anchor: end" x="435.38" y="19.159219" transform="rotate(-0 435.38 19.159219)">2.00</text> </g> </g> <g id="text_36"> <text style="font-size: 10px; font-family: 'DejaVu Sans', sans-serif; text-anchor: middle" x="407.034688" y="138.344" transform="rotate(-90 407.034688 138.344)">CH4 solid loading/(mol/kg)</text> </g> </g> <g id="line2d_39"> <path d="M 464.3 17.7 L 488 26.5 L 516.3 55.68 L 542.8 115 L 552.5 144.2 L 593 167 L 624.64 189.5 L 668.4 225.6 L 701.24 250.32 L 730.8 249.92 L 754.5 249.2 L 777.4 251.72 " clip-path="url(#p1ee7445d52)" style="fill: none; stroke: #1f77b4; stroke-width: 1.5; stroke-linecap: square"/> <g clip-path="url(#p1ee7445d52)"> <path d="M 0 3 C 0.795609 3 1.55874 2.683901 2.12132 2.12132 C 2.683901 1.55874 3 0.795609 3 0 C 3 -0.795609 2.683901 -1.55874 2.12132 -2.12132 C 1.55874 -2.683901 0.795609 -3 0 -3 C -0.795609 -3 -1.55874 -2.683901 -2.12132 -2.12132 C -2.683901 -1.55874 -3 -0.795609 -3 0 C -3 0.795609 -2.683901 1.55874 -2.12132 2.12132 C -1.55874 2.683901 -0.795609 3 0 3 z " transform="translate(464.3 17.7)" style="fill: #1f77b4; stroke: #1f77b4"/> <path d="M 0 3 C 0.795609 3 1.55874 2.683901 2.12132 2.12132 C 2.683901 1.55874 3 0.795609 3 0 C 3 -0.795609 2.683901 -1.55874 2.12132 -2.12132 C 1.55874 -2.683901 0.795609 -3 0 -3 C -0.795609 -3 -1.55874 -2.683901 -2.12132 -2.12132 C -2.683901 -1.55874 -3 -0.795609 -3 0 C -3 0.795609 -2.683901 1.55874 -2.12132 2.12132 C -1.55874 2.683901 -0.795609 3 0 3 z " transform="translate(488 26.5)" style="fill: #1f77b4; stroke: #1f77b4"/> <path d="M 0 3 C 0.795609 3 1.55874 2.683901 2.12132 2.12132 C 2.683901 1.55874 3 0.795609 3 0 C 3 -0.795609 2.683901 -1.55874 2.12132 -2.12132 C 1.55874 -2.683901 0.795609 -3 0 -3 C -0.795609 -3 -1.55874 -2.683901 -2.12132 -2.12132 C -2.683901 -1.55874 -3 -0.795609 -3 0 C -3 0.795609 -2.683901 1.55874 -2.12132 2.12132 C -1.55874 2.683901 -0.795609 3 0 3 z " transform="translate(516.3 55.68)" style="fill: #1f77b4; stroke: #1f77b4"/> <path d="M 0 3 C 0.795609 3 1.55874 2.683901 2.12132 2.12132 C 2.683901 1.55874 3 0.795609 3 0 C 3 -0.795609 2.683901 -1.55874 2.12132 -2.12132 C 1.55874 -2.683901 0.795609 -3 0 -3 C -0.795609 -3 -1.55874 -2.683901 -2.12132 -2.12132 C -2.683901 -1.55874 -3 -0.795609 -3 0 C -3 0.795609 -2.683901 1.55874 -2.12132 2.12132 C -1.55874 2.683901 -0.795609 3 0 3 z " transform="translate(542.8 115)" style="fill: #1f77b4; stroke: #1f77b4"/> <path d="M 0 3 C 0.795609 3 1.55874 2.683901 2.12132 2.12132 C 2.683901 1.55874 3 0.795609 3 0 C 3 -0.795609 2.683901 -1.55874 2.12132 -2.12132 C 1.55874 -2.683901 0.795609 -3 0 -3 C -0.795609 -3 -1.55874 -2.683901 -2.12132 -2.12132 C -2.683901 -1.55874 -3 -0.795609 -3 0 C -3 0.795609 -2.683901 1.55874 -2.12132 2.12132 C -1.55874 2.683901 -0.795609 3 0 3 z " transform="translate(552.5 144.2)" style="fill: #1f77b4; stroke: #1f77b4"/> <path d="M 0 3 C 0.795609 3 1.55874 2.683901 2.12132 2.12132 C 2.683901 1.55874 3 0.795609 3 0 C 3 -0.795609 2.683901 -1.55874 2.12132 -2.12132 C 1.55874 -2.683901 0.795609 -3 0 -3 C -0.795609 -3 -1.55874 -2.683901 -2.12132 -2.12132 C -2.683901 -1.55874 -3 -0.795609 -3 0 C -3 0.795609 -2.683901 1.55874 -2.12132 2.12132 C -1.55874 2.683901 -0.795609 3 0 3 z " transform="translate(593 167)" style="fill: #1f77b4; stroke: #1f77b4"/> <path d="M 0 3 C 0.795609 3 1.55874 2.683901 2.12132 2.12132 C 2.683901 1.55874 3 0.795609 3 0 C 3 -0.795609 2.683901 -1.55874 2.12132 -2.12132 C 1.55874 -2.683901 0.795609 -3 0 -3 C -0.795609 -3 -1.55874 -2.683901 -2.12132 -2.12132 C -2.683901 -1.55874 -3 -0.795609 -3 0 C -3 0.795609 -2.683901 1.55874 -2.12132 2.12132 C -1.55874 2.683901 -0.795609 3 0 3 z " transform="translate(624.64 189.5)" style="fill: #1f77b4; stroke: #1f77b4"/> <path d="M 0 3 C 0.795609 3 1.55874 2.683901 2.12132 2.12132 C 2.683901 1.55874 3 0.795609 3 0 C 3 -0.795609 2.683901 -1.55874 2.12132 -2.12132 C 1.55874 -2.683901 0.795609 -3 0 -3 C -0.795609 -3 -1.55874 -2.683901 -2.12132 -2.12132 C -2.683901 -1.55874 -3 -0.795609 -3 0 C -3 0.795609 -2.683901 1.55874 -2.12132 2.12132 C -1.55874 2.683901 -0.795609 3 0 3 z " transform="translate(668.4 225.6)" style="fill: #1f77b4; stroke: #1f77b4"/> <path d="M 0 3 C 0.795609 3 1.55874 2.683901 2.12132 2.12132 C 2.683901 1.55874 3 0.795609 3 0 C 3 -0.795609 2.683901 -1.55874 2.12132 -2.12132 C 1.55874 -2.683901 0.795609 -3 0 -3 C -0.795609 -3 -1.55874 -2.683901 -2.12132 -2.12132 C -2.683901 -1.55874 -3 -0.795609 -3 0 C -3 0.795609 -2.683901 1.55874 -2.12132 2.12132 C -1.55874 2.683901 -0.795609 3 0 3 z " transform="translate(701.24 250.32)" style="fill: #1f77b4; stroke: #1f77b4"/> <path d="M 0 3 C 0.795609 3 1.55874 2.683901 2.12132 2.12132 C 2.683901 1.55874 3 0.795609 3 0 C 3 -0.795609 2.683901 -1.55874 2.12132 -2.12132 C 1.55874 -2.683901 0.795609 -3 0 -3 C -0.795609 -3 -1.55874 -2.683901 -2.12132 -2.12132 C -2.683901 -1.55874 -3 -0.795609 -3 0 C -3 0.795609 -2.683901 1.55874 -2.12132 2.12132 C -1.55874 2.683901 -0.795609 3 0 3 z " transform="translate(730.8 249.92)" style="fill: #1f77b4; stroke: #1f77b4"/> <path d="M 0 3 C 0.795609 3 1.55874 2.683901 2.12132 2.12132 C 2.683901 1.55874 3 0.795609 3 0 C 3 -0.795609 2.683901 -1.55874 2.12132 -2.12132 C 1.55874 -2.683901 0.795609 -3 0 -3 C -0.795609 -3 -1.55874 -2.683901 -2.12132 -2.12132 C -2.683901 -1.55874 -3 -0.795609 -3 0 C -3 0.795609 -2.683901 1.55874 -2.12132 2.12132 C -1.55874 2.683901 -0.795609 3 0 3 z " transform="translate(754.5 249.2)" style="fill: #1f77b4; stroke: #1f77b4"/> <path d="M 0 3 C 0.795609 3 1.55874 2.683901 2.12132 2.12132 C 2.683901 1.55874 3 0.795609 3 0 C 3 -0.795609 2.683901 -1.55874 2.12132 -2.12132 C 1.55874 -2.683901 0.795609 -3 0 -3 C -0.795609 -3 -1.55874 -2.683901 -2.12132 -2.12132 C -2.683901 -1.55874 -3 -0.795609 -3 0 C -3 0.795609 -2.683901 1.55874 -2.12132 2.12132 C -1.55874 2.683901 -0.795609 3 0 3 z " transform="translate(777.4 251.72)" style="fill: #1f77b4; stroke: #1f77b4"/> </g> </g> <g id="line2d_40"> <path d="M 463.2 104.8 L 503.8 105 L 545.5 111.8 L 575.6 127.5 L 602.2 147.5 L 629.7 167.4 L 665.5 191.2 L 690.5 211.2 L 719.2 224.5 L 749.7 235.5 L 776.5 243 " clip-path="url(#p1ee7445d52)" style="fill: none; stroke: #ff7f0e; stroke-width: 1.5; stroke-linecap: square"/> <g clip-path="url(#p1ee7445d52)"> <path d="M 3 0 L -3 -3 L -3 3 z " transform="translate(463.2 104.8)" style="fill: #ff7f0e; stroke: #ff7f0e; stroke-linejoin: miter"/> <path d="M 3 0 L -3 -3 L -3 3 z " transform="translate(503.8 105)" style="fill: #ff7f0e; stroke: #ff7f0e; stroke-linejoin: miter"/> <path d="M 3 0 L -3 -3 L -3 3 z " transform="translate(545.5 111.8)" style="fill: #ff7f0e; stroke: #ff7f0e; stroke-linejoin: miter"/> <path d="M 3 0 L -3 -3 L -3 3 z " transform="translate(575.6 127.5)" style="fill: #ff7f0e; stroke: #ff7f0e; stroke-linejoin: miter"/> <path d="M 3 0 L -3 -3 L -3 3 z " transform="translate(602.2 147.5)" style="fill: #ff7f0e; stroke: #ff7f0e; stroke-linejoin: miter"/> <path d="M 3 0 L -3 -3 L -3 3 z " transform="translate(629.7 167.4)" style="fill: #ff7f0e; stroke: #ff7f0e; stroke-linejoin: miter"/> <path d="M 3 0 L -3 -3 L -3 3 z " transform="translate(665.5 191.2)" style="fill: #ff7f0e; stroke: #ff7f0e; stroke-linejoin: miter"/> <path d="M 3 0 L -3 -3 L -3 3 z " transform="translate(690.5 211.2)" style="fill: #ff7f0e; stroke: #ff7f0e; stroke-linejoin: miter"/> <path d="M 3 0 L -3 -3 L -3 3 z " transform="translate(719.2 224.5)" style="fill: #ff7f0e; stroke: #ff7f0e; stroke-linejoin: miter"/> <path d="M 3 0 L -3 -3 L -3 3 z " transform="translate(749.7 235.5)" style="fill: #ff7f0e; stroke: #ff7f0e; stroke-linejoin: miter"/> <path d="M 3 0 L -3 -3 L -3 3 z " transform="translate(776.5 243)" style="fill: #ff7f0e; stroke: #ff7f0e; stroke-linejoin: miter"/> </g> </g> <g id="line2d_41"> <path d="M 461 157.2 L 498.5 158.2 L 533.5 157.8 L 565.5 168.2 L 588 188.8 L 615.5 213.6 L 637.3 228.5 L 664.08 244.36 L 695.16 245.84 L 726.28 250.52 L 759.2 251 L 782 251.92 " clip-path="url(#p1ee7445d52)" style="fill: none; stroke: #2ca02c; stroke-width: 1.5; stroke-linecap: square"/> <g clip-path="url(#p1ee7445d52)"> <path d="M 0 -3 L -0.673542 -0.927051 L -2.85317 -0.927051 L -1.089814 0.354102 L -1.763356 2.427051 L -0 1.145898 L 1.763356 2.427051 L 1.089814 0.354102 L 2.85317 -0.927051 L 0.673542 -0.927051 z " transform="translate(461 157.2)" style="fill: #2ca02c; stroke: #2ca02c; stroke-linejoin: bevel"/> <path d="M 0 -3 L -0.673542 -0.927051 L -2.85317 -0.927051 L -1.089814 0.354102 L -1.763356 2.427051 L -0 1.145898 L 1.763356 2.427051 L 1.089814 0.354102 L 2.85317 -0.927051 L 0.673542 -0.927051 z " transform="translate(498.5 158.2)" style="fill: #2ca02c; stroke: #2ca02c; stroke-linejoin: bevel"/> <path d="M 0 -3 L -0.673542 -0.927051 L -2.85317 -0.927051 L -1.089814 0.354102 L -1.763356 2.427051 L -0 1.145898 L 1.763356 2.427051 L 1.089814 0.354102 L 2.85317 -0.927051 L 0.673542 -0.927051 z " transform="translate(533.5 157.8)" style="fill: #2ca02c; stroke: #2ca02c; stroke-linejoin: bevel"/> <path d="M 0 -3 L -0.673542 -0.927051 L -2.85317 -0.927051 L -1.089814 0.354102 L -1.763356 2.427051 L -0 1.145898 L 1.763356 2.427051 L 1.089814 0.354102 L 2.85317 -0.927051 L 0.673542 -0.927051 z " transform="translate(565.5 168.2)" style="fill: #2ca02c; stroke: #2ca02c; stroke-linejoin: bevel"/> <path d="M 0 -3 L -0.673542 -0.927051 L -2.85317 -0.927051 L -1.089814 0.354102 L -1.763356 2.427051 L -0 1.145898 L 1.763356 2.427051 L 1.089814 0.354102 L 2.85317 -0.927051 L 0.673542 -0.927051 z " transform="translate(588 188.8)" style="fill: #2ca02c; stroke: #2ca02c; stroke-linejoin: bevel"/> <path d="M 0 -3 L -0.673542 -0.927051 L -2.85317 -0.927051 L -1.089814 0.354102 L -1.763356 2.427051 L -0 1.145898 L 1.763356 2.427051 L 1.089814 0.354102 L 2.85317 -0.927051 L 0.673542 -0.927051 z " transform="translate(615.5 213.6)" style="fill: #2ca02c; stroke: #2ca02c; stroke-linejoin: bevel"/> <path d="M 0 -3 L -0.673542 -0.927051 L -2.85317 -0.927051 L -1.089814 0.354102 L -1.763356 2.427051 L -0 1.145898 L 1.763356 2.427051 L 1.089814 0.354102 L 2.85317 -0.927051 L 0.673542 -0.927051 z " transform="translate(637.3 228.5)" style="fill: #2ca02c; stroke: #2ca02c; stroke-linejoin: bevel"/> <path d="M 0 -3 L -0.673542 -0.927051 L -2.85317 -0.927051 L -1.089814 0.354102 L -1.763356 2.427051 L -0 1.145898 L 1.763356 2.427051 L 1.089814 0.354102 L 2.85317 -0.927051 L 0.673542 -0.927051 z " transform="translate(664.08 244.36)" style="fill: #2ca02c; stroke: #2ca02c; stroke-linejoin: bevel"/> <path d="M 0 -3 L -0.673542 -0.927051 L -2.85317 -0.927051 L -1.089814 0.354102 L -1.763356 2.427051 L -0 1.145898 L 1.763356 2.427051 L 1.089814 0.354102 L 2.85317 -0.927051 L 0.673542 -0.927051 z " transform="translate(695.16 245.84)" style="fill: #2ca02c; stroke: #2ca02c; stroke-linejoin: bevel"/> <path d="M 0 -3 L -0.673542 -0.927051 L -2.85317 -0.927051 L -1.089814 0.354102 L -1.763356 2.427051 L -0 1.145898 L 1.763356 2.427051 L 1.089814 0.354102 L 2.85317 -0.927051 L 0.673542 -0.927051 z " transform="translate(726.28 250.52)" style="fill: #2ca02c; stroke: #2ca02c; stroke-linejoin: bevel"/> <path d="M 0 -3 L -0.673542 -0.927051 L -2.85317 -0.927051 L -1.089814 0.354102 L -1.763356 2.427051 L -0 1.145898 L 1.763356 2.427051 L 1.089814 0.354102 L 2.85317 -0.927051 L 0.673542 -0.927051 z " transform="translate(759.2 251)" style="fill: #2ca02c; stroke: #2ca02c; stroke-linejoin: bevel"/> <path d="M 0 -3 L -0.673542 -0.927051 L -2.85317 -0.927051 L -1.089814 0.354102 L -1.763356 2.427051 L -0 1.145898 L 1.763356 2.427051 L 1.089814 0.354102 L 2.85317 -0.927051 L 0.673542 -0.927051 z " transform="translate(782 251.92)" style="fill: #2ca02c; stroke: #2ca02c; stroke-linejoin: bevel"/> </g> </g> <g id="line2d_42"> <path d="M 463 243.2 L 497 246.96 L 535.5 247.1 L 565.24 247.24 L 606 248 L 631.68 248.8 L 666.88 251.88 L 702.72 249.04 L 730.24 250 L 775.6 251.6 " clip-path="url(#p1ee7445d52)" style="fill: none; stroke: #d62728; stroke-width: 1.5; stroke-linecap: square"/> <g clip-path="url(#p1ee7445d52)"> <path d="M -3 0 L 3 0 M 0 3 L 0 -3 " transform="translate(463 243.2)" style="fill: #d62728; stroke: #d62728"/> <path d="M -3 0 L 3 0 M 0 3 L 0 -3 " transform="translate(497 246.96)" style="fill: #d62728; stroke: #d62728"/> <path d="M -3 0 L 3 0 M 0 3 L 0 -3 " transform="translate(535.5 247.1)" style="fill: #d62728; stroke: #d62728"/> <path d="M -3 0 L 3 0 M 0 3 L 0 -3 " transform="translate(565.24 247.24)" style="fill: #d62728; stroke: #d62728"/> <path d="M -3 0 L 3 0 M 0 3 L 0 -3 " transform="translate(606 248)" style="fill: #d62728; stroke: #d62728"/> <path d="M -3 0 L 3 0 M 0 3 L 0 -3 " transform="translate(631.68 248.8)" style="fill: #d62728; stroke: #d62728"/> <path d="M -3 0 L 3 0 M 0 3 L 0 -3 " transform="translate(666.88 251.88)" style="fill: #d62728; stroke: #d62728"/> <path d="M -3 0 L 3 0 M 0 3 L 0 -3 " transform="translate(702.72 249.04)" style="fill: #d62728; stroke: #d62728"/> <path d="M -3 0 L 3 0 M 0 3 L 0 -3 " transform="translate(730.24 250)" style="fill: #d62728; stroke: #d62728"/> <path d="M -3 0 L 3 0 M 0 3 L 0 -3 " transform="translate(775.6 251.6)" style="fill: #d62728; stroke: #d62728"/> </g> </g> <g id="line2d_43"> <path d="M 458.1 249.5 L 489.4 249.2 L 514 247.8 L 539.24 250.88 L 565.6 251 L 589.8 250.5 L 625.28 252 L 652.2 250.76 L 681.28 251.12 L 709.72 255 L 730.92 254.88 L 757.32 255.92 L 776.56 249.2 " clip-path="url(#p1ee7445d52)" style="fill: none; stroke: #9467bd; stroke-width: 1.5; stroke-linecap: square"/> <g clip-path="url(#p1ee7445d52)"> <path d="M -3 -0 L 3 3 L 3 -3 z " transform="translate(458.1 249.5)" style="fill: #9467bd; stroke: #9467bd; stroke-linejoin: miter"/> <path d="M -3 -0 L 3 3 L 3 -3 z " transform="translate(489.4 249.2)" style="fill: #9467bd; stroke: #9467bd; stroke-linejoin: miter"/> <path d="M -3 -0 L 3 3 L 3 -3 z " transform="translate(514 247.8)" style="fill: #9467bd; stroke: #9467bd; stroke-linejoin: miter"/> <path d="M -3 -0 L 3 3 L 3 -3 z " transform="translate(539.24 250.88)" style="fill: #9467bd; stroke: #9467bd; stroke-linejoin: miter"/> <path d="M -3 -0 L 3 3 L 3 -3 z " transform="translate(565.6 251)" style="fill: #9467bd; stroke: #9467bd; stroke-linejoin: miter"/> <path d="M -3 -0 L 3 3 L 3 -3 z " transform="translate(589.8 250.5)" style="fill: #9467bd; stroke: #9467bd; stroke-linejoin: miter"/> <path d="M -3 -0 L 3 3 L 3 -3 z " transform="translate(625.28 252)" style="fill: #9467bd; stroke: #9467bd; stroke-linejoin: miter"/> <path d="M -3 -0 L 3 3 L 3 -3 z " transform="translate(652.2 250.76)" style="fill: #9467bd; stroke: #9467bd; stroke-linejoin: miter"/> <path d="M -3 -0 L 3 3 L 3 -3 z " transform="translate(681.28 251.12)" style="fill: #9467bd; stroke: #9467bd; stroke-linejoin: miter"/> <path d="M -3 -0 L 3 3 L 3 -3 z " transform="translate(709.72 255)" style="fill: #9467bd; stroke: #9467bd; stroke-linejoin: miter"/> <path d="M -3 -0 L 3 3 L 3 -3 z " transform="translate(730.92 254.88)" style="fill: #9467bd; stroke: #9467bd; stroke-linejoin: miter"/> <path d="M -3 -0 L 3 3 L 3 -3 z " transform="translate(757.32 255.92)" style="fill: #9467bd; stroke: #9467bd; stroke-linejoin: miter"/> <path d="M -3 -0 L 3 3 L 3 -3 z " transform="translate(776.56 249.2)" style="fill: #9467bd; stroke: #9467bd; stroke-linejoin: miter"/> </g> </g> <g id="line2d_44"> <path d="M 461.1 252 L 488.16 256.4 L 522 255.84 L 549.5 255.4 L 584.12 255.48 L 617.2 255.16 L 649.56 255.92 L 682.68 254.8 L 711.8 256.92 L 740 258.64 L 772.4 256.8 " clip-path="url(#p1ee7445d52)" style="fill: none; stroke: #8c564b; stroke-width: 1.5; stroke-linecap: square"/> <g clip-path="url(#p1ee7445d52)"> <path d="M 0 -3 L -3 3 L 3 3 z " transform="translate(461.1 252)" style="fill: #8c564b; stroke: #8c564b; stroke-linejoin: miter"/> <path d="M 0 -3 L -3 3 L 3 3 z " transform="translate(488.16 256.4)" style="fill: #8c564b; stroke: #8c564b; stroke-linejoin: miter"/> <path d="M 0 -3 L -3 3 L 3 3 z " transform="translate(522 255.84)" style="fill: #8c564b; stroke: #8c564b; stroke-linejoin: miter"/> <path d="M 0 -3 L -3 3 L 3 3 z " transform="translate(549.5 255.4)" style="fill: #8c564b; stroke: #8c564b; stroke-linejoin: miter"/> <path d="M 0 -3 L -3 3 L 3 3 z " transform="translate(584.12 255.48)" style="fill: #8c564b; stroke: #8c564b; stroke-linejoin: miter"/> <path d="M 0 -3 L -3 3 L 3 3 z " transform="translate(617.2 255.16)" style="fill: #8c564b; stroke: #8c564b; stroke-linejoin: miter"/> <path d="M 0 -3 L -3 3 L 3 3 z " transform="translate(649.56 255.92)" style="fill: #8c564b; stroke: #8c564b; stroke-linejoin: miter"/> <path d="M 0 -3 L -3 3 L 3 3 z " transform="translate(682.68 254.8)" style="fill: #8c564b; stroke: #8c564b; stroke-linejoin: miter"/> <path d="M 0 -3 L -3 3 L 3 3 z " transform="translate(711.8 256.92)" style="fill: #8c564b; stroke: #8c564b; stroke-linejoin: miter"/> <path d="M 0 -3 L -3 3 L 3 3 z " transform="translate(740 258.64)" style="fill: #8c564b; stroke: #8c564b; stroke-linejoin: miter"/> <path d="M 0 -3 L -3 3 L 3 3 z " transform="translate(772.4 256.8)" style="fill: #8c564b; stroke: #8c564b; stroke-linejoin: miter"/> </g> </g> <g id="patch_9"> <path d="M 442.38 270.92 L 442.38 5.768 " style="fill: none; stroke: #000000; stroke-width: 0.8; stroke-linejoin: miter; stroke-linecap: square"/> </g> <g id="patch_10"> <path d="M 797.78 270.92 L 797.78 5.768 " style="fill: none; stroke: #000000; stroke-width: 0.8; stroke-linejoin: miter; stroke-linecap: square"/> </g> <g id="patch_11"> <path d="M 442.38 270.92 L 797.78 270.92 " style="fill: none; stroke: #000000; stroke-width: 0.8; stroke-linejoin: miter; stroke-linecap: square"/> </g> <g id="patch_12"> <path d="M 442.38 5.768 L 797.78 5.768 " style="fill: none; stroke: #000000; stroke-width: 0.8; stroke-linejoin: miter; stroke-linecap: square"/> </g> <g id="legend_2"> <g id="patch_13"> <path d="M 744.507078 101.356406 L 790.815 101.356406 Q 792.805 101.356406 792.805 99.366406 L 792.805 12.733 Q 792.805 10.743 790.815 10.743 L 744.507078 10.743 Q 742.517078 10.743 742.517078 12.733 L 742.517078 99.366406 Q 742.517078 101.356406 744.507078 101.356406 z " style="fill: #ffffff; opacity: 0.8; stroke: #cccccc; stroke-linejoin: miter"/> </g> <g id="line2d_45"> <path d="M 746.497078 18.800945 L 756.447078 18.800945 L 766.397078 18.800945 " style="fill: none; stroke: #1f77b4; stroke-width: 1.5; stroke-linecap: square"/> <g> <path d="M 0 3 C 0.795609 3 1.55874 2.683901 2.12132 2.12132 C 2.683901 1.55874 3 0.795609 3 0 C 3 -0.795609 2.683901 -1.55874 2.12132 -2.12132 C 1.55874 -2.683901 0.795609 -3 0 -3 C -0.795609 -3 -1.55874 -2.683901 -2.12132 -2.12132 C -2.683901 -1.55874 -3 -0.795609 -3 0 C -3 0.795609 -2.683901 1.55874 -2.12132 2.12132 C -1.55874 2.683901 -0.795609 3 0 3 z " transform="translate(756.447078 18.800945)" style="fill: #1f77b4; stroke: #1f77b4"/> </g> </g> <g id="text_37"> <text style="font-size: 9.95px; font-family: 'DejaVu Sans', sans-serif; text-anchor: start" x="774.357078" y="22.283445" transform="rotate(-0 774.357078 22.283445)">RP</text> </g> <g id="line2d_46"> <path d="M 746.497078 33.40568 L 756.447078 33.40568 L 766.397078 33.40568 " style="fill: none; stroke: #ff7f0e; stroke-width: 1.5; stroke-linecap: square"/> <g> <path d="M 3 0 L -3 -3 L -3 3 z " transform="translate(756.447078 33.40568)" style="fill: #ff7f0e; stroke: #ff7f0e; stroke-linejoin: miter"/> </g> </g> <g id="text_38"> <text style="font-size: 9.95px; font-family: 'DejaVu Sans', sans-serif; text-anchor: start" x="774.357078" y="36.88818" transform="rotate(-0 774.357078 36.88818)">ED</text> </g> <g id="line2d_47"> <path d="M 746.497078 48.010414 L 756.447078 48.010414 L 766.397078 48.010414 " style="fill: none; stroke: #2ca02c; stroke-width: 1.5; stroke-linecap: square"/> <g> <path d="M 0 -3 L -0.673542 -0.927051 L -2.85317 -0.927051 L -1.089814 0.354102 L -1.763356 2.427051 L -0 1.145898 L 1.763356 2.427051 L 1.089814 0.354102 L 2.85317 -0.927051 L 0.673542 -0.927051 z " transform="translate(756.447078 48.010414)" style="fill: #2ca02c; stroke: #2ca02c; stroke-linejoin: bevel"/> </g> </g> <g id="text_39"> <text style="font-size: 9.95px; font-family: 'DejaVu Sans', sans-serif; text-anchor: start" x="774.357078" y="51.492914" transform="rotate(-0 774.357078 51.492914)">AD</text> </g> <g id="line2d_48"> <path d="M 746.497078 62.615148 L 756.447078 62.615148 L 766.397078 62.615148 " style="fill: none; stroke: #d62728; stroke-width: 1.5; stroke-linecap: square"/> <g> <path d="M -3 0 L 3 0 M 0 3 L 0 -3 " transform="translate(756.447078 62.615148)" style="fill: #d62728; stroke: #d62728"/> </g> </g> <g id="text_40"> <text style="font-size: 9.95px; font-family: 'DejaVu Sans', sans-serif; text-anchor: start" x="774.357078" y="66.097648" transform="rotate(-0 774.357078 66.097648)">PR</text> </g> <g id="line2d_49"> <path d="M 746.497078 77.219883 L 756.447078 77.219883 L 766.397078 77.219883 " style="fill: none; stroke: #9467bd; stroke-width: 1.5; stroke-linecap: square"/> <g> <path d="M -3 -0 L 3 3 L 3 -3 z " transform="translate(756.447078 77.219883)" style="fill: #9467bd; stroke: #9467bd; stroke-linejoin: miter"/> </g> </g> <g id="text_41"> <text style="font-size: 9.95px; font-family: 'DejaVu Sans', sans-serif; text-anchor: start" x="774.357078" y="80.702383" transform="rotate(-0 774.357078 80.702383)">ER</text> </g> <g id="line2d_50"> <path d="M 746.497078 91.824617 L 756.447078 91.824617 L 766.397078 91.824617 " style="fill: none; stroke: #8c564b; stroke-width: 1.5; stroke-linecap: square"/> <g> <path d="M 0 -3 L -3 3 L 3 3 z " transform="translate(756.447078 91.824617)" style="fill: #8c564b; stroke: #8c564b; stroke-linejoin: miter"/> </g> </g> <g id="text_42"> <text style="font-size: 9.95px; font-family: 'DejaVu Sans', sans-serif; text-anchor: start" x="774.357078" y="95.307117" transform="rotate(-0 774.357078 95.307117)">VU</text> </g> </g> </g> </g> <defs> <clipPath id="pc1bcc876b8"> <rect x="35.34" y="2.04" width="359.38" height="268.06"/> </clipPath> <clipPath id="p1ee7445d52"> <rect x="442.38" y="5.768" width="355.4" height="265.152"/> </clipPath> </defs> </svg> 
</body></html>
